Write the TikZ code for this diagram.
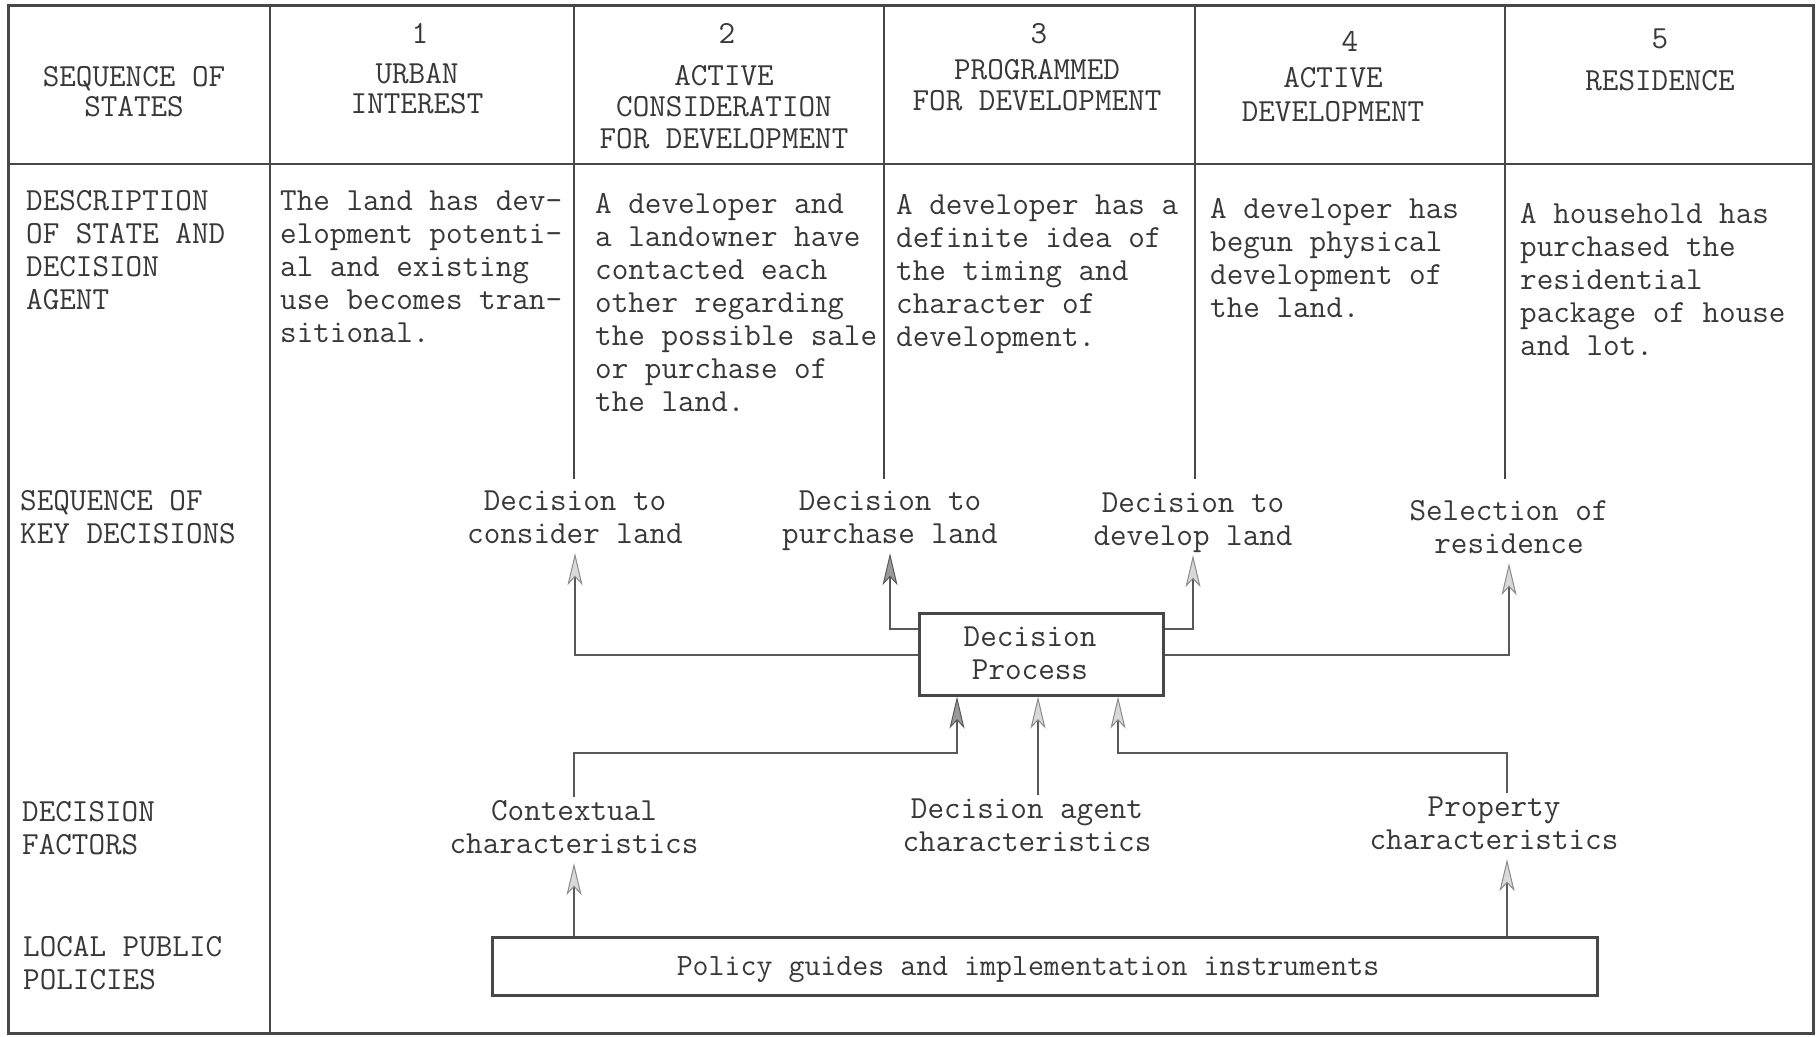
\documentclass[tikz,border=0pt]{standalone}
\usepackage{fontspec}
\usetikzlibrary{arrows.meta}
\definecolor{ink}{gray}{0.22}
\definecolor{rulecol}{gray}{0.28}
\definecolor{wire}{gray}{0.35}
% stacked lines of typewritten text, baseline on the first line
\newcommand\lefttab[1]{\begin{tabular}[t]{@{}l@{}}#1\end{tabular}}
\newcommand\centtab[1]{\begin{tabular}[t]{@{}c@{}}#1\end{tabular}}

\begin{document}
\begin{tikzpicture}[x=1pt,y=-1pt,
  txt/.style={inner sep=0pt, text=ink, font=\ttfamily\fontsize{32.2}{33}\selectfont},
  head/.style={txt, font=\ttfamily\fontsize{32.2}{#1}\selectfont},
  head/.default=30,
  frame/.style={draw=rulecol, line width=3pt},
  rule/.style={draw=rulecol, line width=2pt},
  box/.style={draw=rulecol, line width=3pt, inner sep=0pt},
  conn/.style={draw=wire, line width=2pt},
  tipL/.style={-{Stealth[length=32pt,width=15pt,inset=8pt,color=black!45,fill=black!15,line width=1pt]}},
  tipD/.style={-{Stealth[length=32pt,width=15pt,inset=8pt,color=black!65,fill=black!40,line width=1pt]}}
]
\useasboundingbox (0,0) rectangle (1819,1036);
\fill[white] (0,0) rectangle (1819,1036);

% table frame and rules
\draw[frame] (8,5) rectangle (1813,1033);
\draw[rule] (8,164) -- (1813,164);
\draw[rule] (270,5) -- (270,1033);
\foreach \cx in {574,884,1195,1505}
  \draw[rule] (\cx,5) -- (\cx,479);

% header row
\node[head=30, anchor=base] (h0) at (134,86) {\centtab{SEQUENCE OF\\STATES}};
\node[head, anchor=base] (n1) at (420,43.5) {1};
\node[head=30, anchor=base] (h1) at (417,83.5) {\centtab{URBAN\\INTEREST}};
\node[head, anchor=base] (n2) at (727,43.5) {2};
\node[head=31.5, anchor=base] (h2) at (724,85) {\centtab{ACTIVE\\CONSIDERATION\\FOR DEVELOPMENT}};
\node[head, anchor=base] (n3) at (1039,43.5) {3};
\node[head=31, anchor=base] (h3) at (1037,79.5) {\centtab{PROGRAMMED\\FOR DEVELOPMENT}};
\node[head, anchor=base] (n4) at (1350,51.5) {4};
\node[head=34, anchor=base] (h4) at (1333,87) {\centtab{ACTIVE\\DEVELOPMENT}};
\node[head, anchor=base] (n5) at (1660,48.5) {5};
\node[head, anchor=base] (h5) at (1660,90.5) {RESIDENCE};

% description row
\node[txt, anchor=base west] (d0) at (26,210) {\lefttab{DESCRIPTION\\OF STATE AND\\DECISION\\AGENT}};
\node[txt, anchor=base west] (d1) at (280,210) {\lefttab{The land has dev-\\elopment potenti-\\al and existing\\use becomes tran-\\sitional.}};
\node[txt, anchor=base west] (d2) at (595,213) {\lefttab{A developer and\\a landowner have\\contacted each\\other regarding\\the possible sale\\or purchase of\\the land.}};
\node[txt, anchor=base west] (d3) at (896,214) {\lefttab{A developer has a\\definite idea of\\the timing and\\character of\\development.}};
\node[txt, anchor=base west] (d4) at (1210,218) {\lefttab{A developer has\\begun physical\\development of\\the land.}};
\node[txt, anchor=base west] (d5) at (1520,223) {\lefttab{A household has\\purchased the\\residential\\package of house\\and lot.}};

% row labels
\node[txt, anchor=base west] (r2) at (20,510) {\lefttab{SEQUENCE OF\\KEY DECISIONS}};
\node[txt, anchor=base west] (r3) at (22,821) {\lefttab{DECISION\\FACTORS}};
\node[txt, anchor=base west] (r4) at (23,956) {\lefttab{LOCAL PUBLIC\\POLICIES}};

% key decisions
\node[txt, anchor=base] (k1) at (575,510) {\centtab{Decision to\\consider land}};
\node[txt, anchor=base] (k2) at (890,510) {\centtab{Decision to\\purchase land}};
\node[txt, anchor=base] (k3) at (1193,512) {\centtab{Decision to\\develop land}};
\node[txt, anchor=base] (k4) at (1509,520) {\centtab{Selection of\\residence}};

% decision process
\node[box, minimum width=244pt, minimum height=82pt] (dp) at (1041,654) {};
\node[txt, anchor=base] (dpt) at (1030,646) {\centtab{Decision\\Process}};

% decision factors
\node[txt, anchor=base] (f1) at (574,820) {\centtab{Contextual\\characteristics}};
\node[txt, anchor=base] (f2) at (1027,818) {\centtab{Decision agent\\characteristics}};
\node[txt, anchor=base] (f3) at (1494,816) {\centtab{Property\\characteristics}};

% local public policies
\node[box, minimum width=1105pt, minimum height=58pt] (pol) at (1044.5,966) {};
\node[txt, font=\ttfamily\fontsize{31}{33}\selectfont, anchor=base] (polt) at (1028,975) {Policy guides and implementation instruments};

% outputs of the decision process
\coordinate (lowout) at (0,655);
\coordinate (highout) at (0,629);
\draw[conn, tipL] (dp.west |- lowout) -| (k1.south);
\draw[conn, tipD] (dp.west |- highout) -| (k2.south);
\draw[conn, tipL] (dp.east |- highout) -| (k3.south);
\draw[conn, tipL] (dp.east |- lowout) -| (k4.south);

% inputs to the decision process
\coordinate (jc) at (957,753);
\coordinate (ja) at (1038,0);
\coordinate (jp) at (1118,753);
\coordinate (px) at (1507,0);
\draw[conn, tipD] (f1.north) |- (jc) -- (jc |- dp.south);
\draw[conn, tipL] (ja |- f2.north) -- (ja |- dp.south);
\draw[conn, tipL] (px |- f3.north) |- (jp) -- (jp |- dp.south);

% policies feeding the factors
\draw[conn, tipL] (f1.south |- pol.north) -- (f1.south);
\draw[conn, tipL] (px |- pol.north) -- (px |- f3.south);
\end{tikzpicture}
\end{document}
